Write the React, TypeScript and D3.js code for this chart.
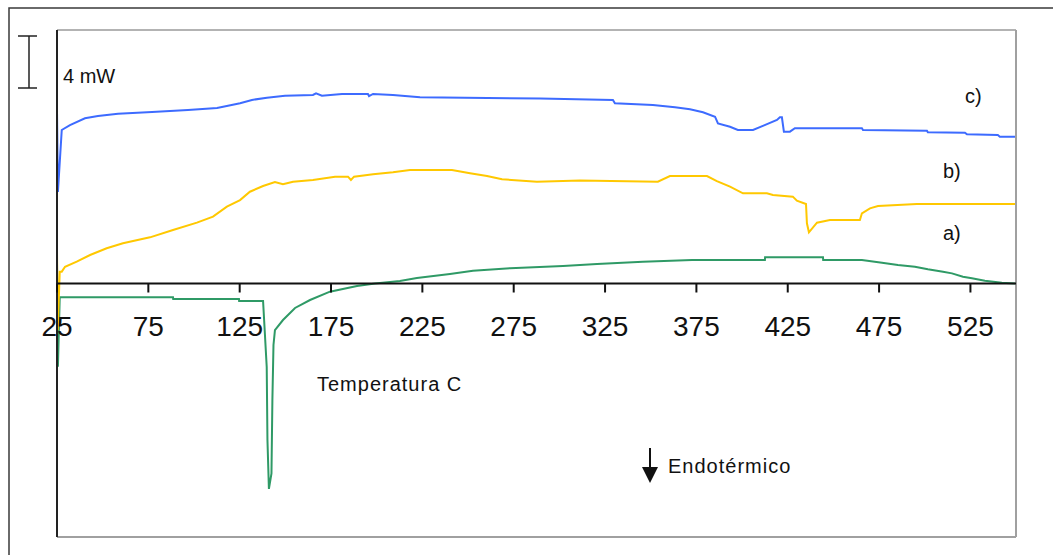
import React from "react";
import * as d3 from "d3";

// Temperature ticks (°C)
const xTicks = [25, 75, 125, 175, 225, 275, 325, 375, 425, 475, 525];

// Curve a) — heat flow (mW) vs temperature (°C)
const tempA = [25, 25.5, 26.5, 88.5, 88.6, 124.6, 124.7, 137.8, 139.8, 140.2, 141.0, 142.4, 142.9, 143.5, 144.3, 148.7, 155.3, 163.5, 174.4, 189.2, 199.1, 212.7, 222.0, 240.1, 252.7, 273.0, 302.0, 320.6, 345.7, 372.6, 412.5, 412.6, 444.3, 444.4, 465.6, 476.6, 485.3, 494.6, 501.7, 510.0, 514.9, 520.9, 525.8, 532.9, 542.2, 549.4];
const flowA = [1.6, -6.4, -1.06, -1.06, -1.19, -1.19, -1.35, -1.35, -6.42, -12.04, -15.8, -14.6, -9.0, -4.73, -3.58, -2.81, -1.88, -1.27, -0.63, -0.19, 0, 0.19, 0.42, 0.73, 0.98, 1.18, 1.35, 1.5, 1.67, 1.81, 1.81, 2.02, 2.02, 1.81, 1.81, 1.6, 1.42, 1.29, 1.09, 0.91, 0.78, 0.52, 0.4, 0.22, 0.06, 0];

// Curve b)
const tempB = [25, 25.4, 26.5, 27.6, 29.4, 35.8, 43.1, 52.2, 61.1, 75.9, 88.5, 101.6, 110.4, 118.0, 125.2, 130.6, 137.8, 144.3, 148.7, 154.2, 165.1, 177.2, 184.3, 185.9, 187.6, 198.0, 208.9, 218.2, 241.2, 251.1, 260.4, 268.6, 287.7, 311.3, 353.9, 360.5, 380.8, 386.2, 393.4, 400.5, 413.6, 416.9, 427.8, 430.0, 435.0, 435.5, 436.6, 441.0, 448.1, 464.5, 465.6, 470.0, 474.4, 495.7, 549.4];
const flowB = [2.6, -3.6, 0.9, 0.91, 1.29, 1.68, 2.19, 2.71, 3.09, 3.55, 4.12, 4.68, 5.14, 5.91, 6.42, 7.06, 7.5, 7.81, 7.63, 7.83, 7.96, 8.22, 8.22, 7.96, 8.22, 8.4, 8.55, 8.73, 8.73, 8.48, 8.27, 8.02, 7.83, 7.92, 7.83, 8.27, 8.27, 7.88, 7.45, 6.94, 6.94, 6.81, 6.68, 6.37, 6.12, 4.63, 3.94, 4.68, 4.88, 4.88, 5.4, 5.78, 5.96, 6.12, 6.12];

// Curve c)
const tempC = [25, 25.5, 27.6, 32.1, 40.3, 47.4, 58.4, 77.0, 96.7, 112.6, 118.6, 125.2, 131.7, 139.9, 149.8, 165.1, 166.8, 170.0, 181.0, 195.2, 195.8, 198.0, 208.9, 223.7, 289.4, 329.3, 330.4, 351.2, 363.3, 371.5, 378.6, 385.2, 386.8, 393.4, 397.7, 406.0, 411.4, 419.1, 420.7, 421.8, 422.9, 426.2, 428.9, 465.6, 466.2, 501.2, 501.7, 522.0, 523.1, 540.0, 541.1, 549.4];
const flowC = [13.35, 7.04, 11.81, 12.19, 12.71, 12.88, 13.06, 13.19, 13.35, 13.5, 13.68, 13.86, 14.12, 14.29, 14.45, 14.5, 14.63, 14.45, 14.58, 14.58, 14.42, 14.58, 14.5, 14.32, 14.23, 14.12, 13.86, 13.73, 13.55, 13.4, 13.17, 12.83, 12.32, 12.06, 11.81, 11.81, 12.12, 12.58, 12.78, 12.78, 11.68, 11.68, 11.94, 11.94, 11.81, 11.75, 11.63, 11.6, 11.48, 11.42, 11.29, 11.29];

const seriesLabels = ["a)", "b)", "c)"];
const seriesColors = ["#2f9a66", "#ffc800", "#3d6bff"];

const W = 1053;
const H = 555;
const plot = { left: 57, right: 1016, top: 30, bottom: 537 };

export default function App() {
  const x = d3.scaleLinear().domain([25, 549.4]).range([plot.left, 1015]);
  const y = d3.scaleLinear().domain([-19.5, 19.5]).range([plot.bottom, plot.top]);

  const line = d3
    .line<[number, number]>()
    .x((d) => x(d[0]))
    .y((d) => y(d[1]))
    .curve(d3.curveLinear);

  const zip = (t: number[], v: number[]) => t.map((tt, i) => [tt, v[i]] as [number, number]);
  const curves = [zip(tempA, flowA), zip(tempB, flowB), zip(tempC, flowC)];

  const labelPos = [
    { x: 943, y: 240 },
    { x: 943, y: 178 },
    { x: 965, y: 103 },
  ];

  const font = "'Liberation Sans', Arial, sans-serif";
  const y0 = y(0);

  return (
    <svg
      width={W}
      height={H}
      style={{ position: "absolute", left: 0, top: 0, background: "#fff", display: "block" }}
      fontFamily={font}
    >
      <rect x={0} y={0} width={W} height={H} fill="#fff" />
      {/* outer frame */}
      <rect x={9} y={8} width={1100} height={600} fill="none" stroke="#3a3a3a" strokeWidth={1.5} />

      {/* plot frame */}
      <line x1={plot.left} x2={plot.right} y1={plot.top} y2={plot.top} stroke="#9a9a9a" strokeWidth={1.5} />
      <line x1={plot.right} x2={plot.right} y1={plot.top} y2={plot.bottom} stroke="#a0a0a0" strokeWidth={2} />
      <line x1={plot.left} x2={plot.right} y1={plot.bottom} y2={plot.bottom} stroke="#a0a0a0" strokeWidth={2} />

      {/* scale bar: 4 mW */}
      <g stroke="#222" strokeWidth={1.5}>
        <line x1={29} x2={29} y1={y(19.5) + 6} y2={y(19.5) + 6 + (y(0) - y(4))} />
        <line x1={18} x2={37} y1={y(19.5) + 6} y2={y(19.5) + 6} />
        <line x1={18} x2={37} y1={y(19.5) + 6 + (y(0) - y(4))} y2={y(19.5) + 6 + (y(0) - y(4))} />
      </g>
      <text x={63} y={83} fontSize={20} fill="#111">4 mW</text>

      {/* curves */}
      {curves.map((c, i) => (
        <path key={i} d={line(c) || ""} fill="none" stroke={seriesColors[i]} strokeWidth={2} strokeLinejoin="miter" />
      ))}

      {/* axes */}
      <line x1={plot.left} x2={plot.left} y1={plot.top} y2={plot.bottom} stroke="#222" strokeWidth={2} />
      <line x1={plot.left} x2={plot.right} y1={y0} y2={y0} stroke="#111" strokeWidth={2} />
      {xTicks.map((t) => (
        <g key={t}>
          <line x1={x(t)} x2={x(t)} y1={y0} y2={y0 + 9} stroke="#111" strokeWidth={2} />
          <text x={x(t)} y={336} fontSize={28} textAnchor="middle" fill="#111">
            {t}
          </text>
        </g>
      ))}
      <text x={317} y={391} fontSize={20} letterSpacing={1} fill="#111">Temperatura C</text>

      {/* series labels */}
      {seriesLabels.map((s, i) => (
        <text key={s} x={labelPos[i].x} y={labelPos[i].y} fontSize={20} fill="#111">
          {s}
        </text>
      ))}

      {/* endothermic direction */}
      <line x1={650} x2={650} y1={448} y2={470} stroke="#111" strokeWidth={2} />
      <path d="M642,467 L658,467 L650,483 Z" fill="#111" />
      <text x={668} y={473} fontSize={20} letterSpacing={1} fill="#111">Endotérmico</text>
    </svg>
  );
}
